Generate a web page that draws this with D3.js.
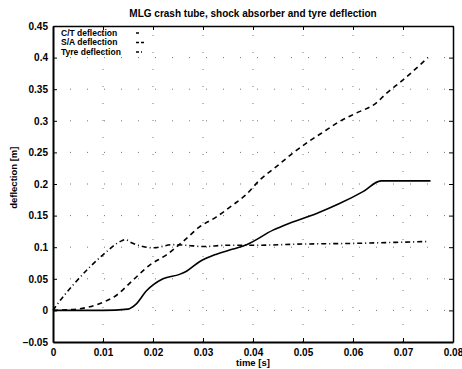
<!DOCTYPE html>
<html>
<head>
<meta charset="utf-8">
<script src="https://cdn.jsdelivr.net/npm/d3@7"></script>
<style>
  body { margin: 0; background: #fff; }
  text { font-family: "Liberation Sans", Arial, sans-serif; fill: #000; }
</style>
</head>
<body>
<svg id="chart"></svg>
<script>
const width = 462, height = 369;
const margin = {top: 26, right: 8, bottom: 27, left: 53};

// C/T (crash tube) deflection
const ctTime = [0, 0.005, 0.01, 0.015, 0.0165, 0.0187, 0.022, 0.0253, 0.0267, 0.0293, 0.0327, 0.036, 0.0387, 0.044, 0.0473, 0.0526, 0.0573, 0.062, 0.0656, 0.0755];
const ctDefl = [0, 0, 0, 0.002, 0.009, 0.031, 0.050, 0.057, 0.062, 0.077, 0.089, 0.097, 0.104, 0.127, 0.138, 0.153, 0.169, 0.188, 0.205, 0.205];

// S/A (shock absorber) deflection
const saTime = [0, 0.0047, 0.0094, 0.0127, 0.016, 0.0194, 0.0227, 0.026, 0.0293, 0.0327, 0.036, 0.0386, 0.0413, 0.0446, 0.048, 0.0513, 0.0546, 0.0573, 0.0606, 0.0646, 0.0666, 0.0699, 0.075];
const saDefl = [0, 0.002, 0.011, 0.024, 0.048, 0.072, 0.088, 0.109, 0.132, 0.148, 0.167, 0.183, 0.206, 0.227, 0.249, 0.268, 0.285, 0.299, 0.312, 0.328, 0.343, 0.364, 0.400];

// tyre deflection
const tyTime = [0, 0.0007, 0.004, 0.0074, 0.01, 0.0137, 0.0145, 0.0157, 0.018, 0.02, 0.024, 0.0267, 0.03, 0.0347, 0.04, 0.05, 0.06, 0.07, 0.075];
const tyDefl = [0, 0.008, 0.04, 0.069, 0.088, 0.110, 0.112, 0.107, 0.101, 0.099, 0.104, 0.103, 0.101, 0.103, 0.103, 0.105, 0.106, 0.108, 0.109];

const xTicks = [0, 0.01, 0.02, 0.03, 0.04, 0.05, 0.06, 0.07, 0.08];
const yTicks = [-0.05, 0, 0.05, 0.1, 0.15, 0.2, 0.25, 0.3, 0.35, 0.4, 0.45];

const legendNames = ["C/T deflection", "S/A deflection", "Tyre deflection"];
const dashes = [null, "5,4", "5,3,1,3"];

const svg = d3.select("#chart")
    .attr("width", width)
    .attr("height", height);

const x = d3.scaleLinear().domain([0, 0.08]).range([margin.left, width - margin.right - 1]);
const y = d3.scaleLinear().domain([-0.05, 0.45]).range([height - margin.bottom, margin.top]);

// dotted grid
const grid = svg.append("g")
    .attr("stroke", "#777")
    .attr("stroke-width", 1)
    .attr("stroke-dasharray", "1,16");
grid.selectAll(".gx").data(xTicks.slice(1, -1)).enter().append("line")
    .attr("x1", d => x(d)).attr("x2", d => x(d))
    .attr("y1", y(-0.05)).attr("y2", y(0.45));
grid.selectAll(".gy").data(yTicks.slice(1, -1)).enter().append("line")
    .attr("x1", x(0)).attr("x2", x(0.08))
    .attr("y1", d => y(d)).attr("y2", d => y(d));

// axes with inward ticks
const fmt = d => (d === 0 ? "0" : d3.format("")(+d.toFixed(2)));

svg.append("g")
    .attr("transform", "translate(0," + y(-0.05) + ")")
    .call(d3.axisBottom(x).tickValues(xTicks).tickSizeInner(-4).tickSizeOuter(0).tickPadding(7).tickFormat(fmt))
    .call(g => g.select(".domain").attr("stroke-width", 2));
svg.append("g")
    .attr("transform", "translate(0," + y(0.45) + ")")
    .call(d3.axisTop(x).tickValues(xTicks).tickSizeInner(-4).tickSizeOuter(0).tickFormat(""))
    .call(g => g.select(".domain").attr("stroke-width", 1.5));
svg.append("g")
    .attr("transform", "translate(" + x(0) + ",0)")
    .call(d3.axisLeft(y).tickValues(yTicks).tickSizeInner(-4).tickSizeOuter(0).tickPadding(5).tickFormat(fmt))
    .call(g => g.select(".domain").attr("stroke-width", 2));
svg.append("g")
    .attr("transform", "translate(" + x(0.08) + ",0)")
    .call(d3.axisRight(y).tickValues(yTicks).tickSizeInner(-4).tickSizeOuter(0).tickFormat(""))
    .call(g => g.select(".domain").attr("stroke-width", 1.5));

svg.selectAll(".tick text")
    .style("font-size", "10px")
    .style("font-weight", "bold")
    .style("font-family", "'Liberation Sans', Arial, sans-serif");

// series
const series = [
    {t: ctTime, d: ctDefl},
    {t: saTime, d: saDefl},
    {t: tyTime, d: tyDefl}
];

const line = d3.line()
    .x(p => x(p[0]))
    .y(p => y(p[1]))
    .curve(d3.curveMonotoneX);

series.forEach(function (s, i) {
    svg.append("path")
        .datum(s.t.map((t, k) => [t, s.d[k]]))
        .attr("fill", "none")
        .attr("stroke", "#000")
        .attr("stroke-width", 1.6)
        .attr("stroke-dasharray", dashes[i])
        .attr("d", line);
});

// legend
const legend = svg.append("g");
legendNames.forEach(function (name, i) {
    const ly = 33 + i * 9.5;
    legend.append("text")
        .attr("x", 61)
        .attr("y", ly)
        .attr("dy", "0.35em")
        .style("font-size", "8.5px")
        .style("font-weight", "bold")
        .text(name);
    legend.append("line")
        .attr("x1", 136).attr("x2", 144)
        .attr("y1", ly).attr("y2", ly)
        .attr("stroke", "#000")
        .attr("stroke-width", 1.5)
        .attr("stroke-dasharray", i === 0 ? "3,5" : i === 1 ? "3,2,3,2" : "3,2,1,2");
});

// title and axis labels
svg.append("text")
    .attr("x", (x(0) + x(0.08)) / 2)
    .attr("y", 17)
    .attr("text-anchor", "middle")
    .style("font-size", "10px")
    .style("font-weight", "bold")
    .text("MLG crash tube, shock absorber and tyre deflection");

svg.append("text")
    .attr("x", (x(0) + x(0.08)) / 2)
    .attr("y", 366)
    .attr("text-anchor", "middle")
    .style("font-size", "9.5px")
    .style("font-weight", "bold")
    .text("time [s]");

svg.append("text")
    .attr("transform", "translate(17," + y(0.21) + ") rotate(-90)")
    .attr("text-anchor", "middle")
    .style("font-size", "9.5px")
    .style("font-weight", "bold")
    .text("deflection [m]");
</script>
</body>
</html>
